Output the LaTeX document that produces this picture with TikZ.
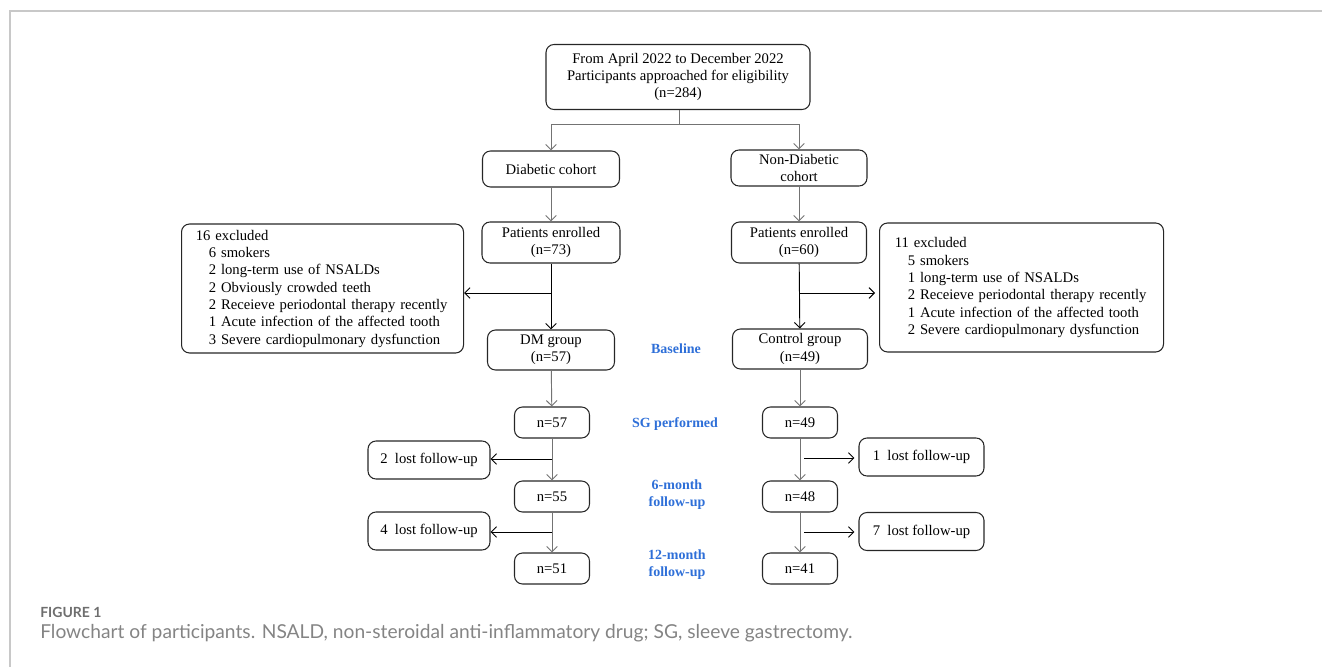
\documentclass[tikz,border=0pt]{standalone}
\usepackage{fontspec}
\setmainfont{Liberation Serif}
\newfontfamily\capfont{Lato}
\usetikzlibrary{arrows.meta}
\definecolor{stageblue}{HTML}{2E6FD8}
\definecolor{framegray}{HTML}{C8C8C8}
\definecolor{capgray}{HTML}{6E6E6E}

\begin{document}
\begin{tikzpicture}[x=0.75pt, y=-0.75pt, font=\fontsize{11}{13}\selectfont,
  box/.style={draw=black!85, line width=0.8pt, rounded corners=6pt, align=center, inner sep=2pt},
  excl/.style={box, align=left, anchor=west, minimum height=96.75pt},
  flow/.style={-{Straight Barb[length=4pt, width=8pt]}, black!55, line width=0.7pt},
  side/.style={-{Straight Barb[length=4pt, width=8pt]}, black, line width=0.7pt},
  stage/.style={text=stageblue, font=\fontsize{10.5}{12.8}\selectfont\bfseries, align=center}]
\useasboundingbox (0,0) rectangle (1322,667);
\draw[framegray, line width=1.1pt] (10,667) -- (10,11) -- (1322,11);
% enrolment
\node[box, minimum width=198pt, minimum height=48.75pt] (top) at (678,77) {From April 2022 to December 2022\\Participants approached for eligibility\\(n=284)};
\node[box, minimum width=102.75pt, minimum height=27pt] (diab) at (551,169) {Diabetic cohort};
\node[box, minimum width=102pt, minimum height=27pt] (nondiab) at (799,168) {Non-Diabetic\\cohort};
\node[box, minimum width=103.5pt, minimum height=30.75pt] (enrolD) at (551,242.5) {Patients enrolled\\(n=73)};
\node[box, minimum width=101.25pt, minimum height=30.75pt] (enrolN) at (799,242.5) {Patients enrolled\\(n=60)};
\node[excl, text width=190pt, inner xsep=10.75pt] (exclD) at (181,288.5) {16 excluded\\
  \hspace*{9.75pt}6 smokers\\ \hspace*{9.75pt}2 long-term use of NSALDs\\ \hspace*{9.75pt}2 Obviously crowded teeth\\
  \hspace*{9.75pt}2 Receieve periodontal therapy recently\\ \hspace*{9.75pt}1 Acute infection of the affected tooth\\
  \hspace*{9.75pt}3 Severe cardiopulmonary dysfunction};
\node[excl, text width=190pt, inner xsep=11.5pt] (exclN) at (879,287.5) {11 excluded\\
  \hspace*{9.75pt}5 smokers\\ \hspace*{9.75pt}1 long-term use of NSALDs\\
  \hspace*{9.75pt}2 Receieve periodontal therapy recently\\ \hspace*{9.75pt}1 Acute infection of the affected tooth\\
  \hspace*{9.75pt}2 Severe cardiopulmonary dysfunction};
\node[box, minimum width=95.25pt, minimum height=30pt] (dm) at (551,350) {DM group\\(n=57)};
\node[box, minimum width=101.25pt, minimum height=30pt] (ctrl) at (800,349) {Control group\\(n=49)};
% follow-up counts
\node[box, minimum width=56.25pt, minimum height=23.25pt] (sgD) at (552,422.5) {n=57};
\node[box, minimum width=56.25pt, minimum height=23.25pt] (m6D) at (552,496.5) {n=55};
\node[box, minimum width=56.25pt, minimum height=23.25pt] (m12D) at (552,568.5) {n=51};
\node[box, minimum width=56.25pt, minimum height=23.25pt] (sgN) at (800,422.5) {n=49};
\node[box, minimum width=56.25pt, minimum height=23.25pt] (m6N) at (800,496.5) {n=48};
\node[box, minimum width=56.25pt, minimum height=23.25pt] (m12N) at (800,568.5) {n=41};
\node[box, minimum width=91.5pt, minimum height=28.5pt] (lostD1) at (429,460) {2\ \ lost follow-up};
\node[box, minimum width=91.5pt, minimum height=28.5pt] (lostD2) at (429,531) {4\ \ lost follow-up};
\node[box, minimum width=93.75pt, minimum height=28.5pt] (lostN1) at (921.5,457) {1\ \ lost follow-up};
\node[box, minimum width=93.75pt, minimum height=28.5pt] (lostN2) at (921.5,531.5) {7\ \ lost follow-up};
% stages
\node[stage] (base) at (676,349) {Baseline};
\node[stage] (sg) at (675,424) {SG performed};
\node[stage] (six) at (677,494.5) {6-month\\follow-up};
\node[stage] (twelve) at (677,565) {12-month\\follow-up};
% connectors
\coordinate (split) at (679,124);
\draw[flow, -] (top.south -| split) -- (split);
\draw[flow] (split) -| (diab);
\draw[flow] (split) -| (nondiab);
\draw[flow] (diab) -- (enrolD);
\draw[flow] (nondiab) -- (enrolN);
\draw[side] (enrolD) -- (dm);
\draw[side] (enrolN) -- (ctrl);
\coordinate (brD) at (551,293); \coordinate (brN) at (800,293);
\draw[side] (brD) -- (brD -| exclD.east);
\draw[side, shorten >=3pt] (brN) -- (brN -| exclN.west);
\draw[flow] (dm) -- (sgD);
\draw[flow] (sgD) -- (m6D);
\draw[flow] (m6D) -- (m12D);
\draw[flow] (ctrl) -- (sgN);
\draw[flow] (sgN) -- (m6N);
\draw[flow] (m6N) -- (m12N);
\coordinate (l1D) at (552,459); \coordinate (l2D) at (552,532);
\coordinate (l1N) at (804,458); \coordinate (l2N) at (804,532);
\draw[side] (l1D) -- (l1D -| lostD1.east);
\draw[side] (l2D) -- (l2D -| lostD2.east);
\draw[side, shorten >=3pt] (l1N) -- (l1N -| lostN1.west);
\draw[side, shorten >=3pt] (l2N) -- (l2N -| lostN2.west);
% caption
\node[anchor=west, inner sep=0pt, text=capgray, font=\capfont\bfseries\fontsize{10.5}{12}\selectfont] (fig) at (40,612) {FIGURE 1};
\node[anchor=west, inner sep=0pt, text=capgray!85, font=\capfont\fontsize{14.4}{17}\selectfont] (cap) at (40,633) {Flowchart of participants. NSALD, non-steroidal anti-inflammatory drug; SG, sleeve gastrectomy.};
\end{tikzpicture}
\end{document}
